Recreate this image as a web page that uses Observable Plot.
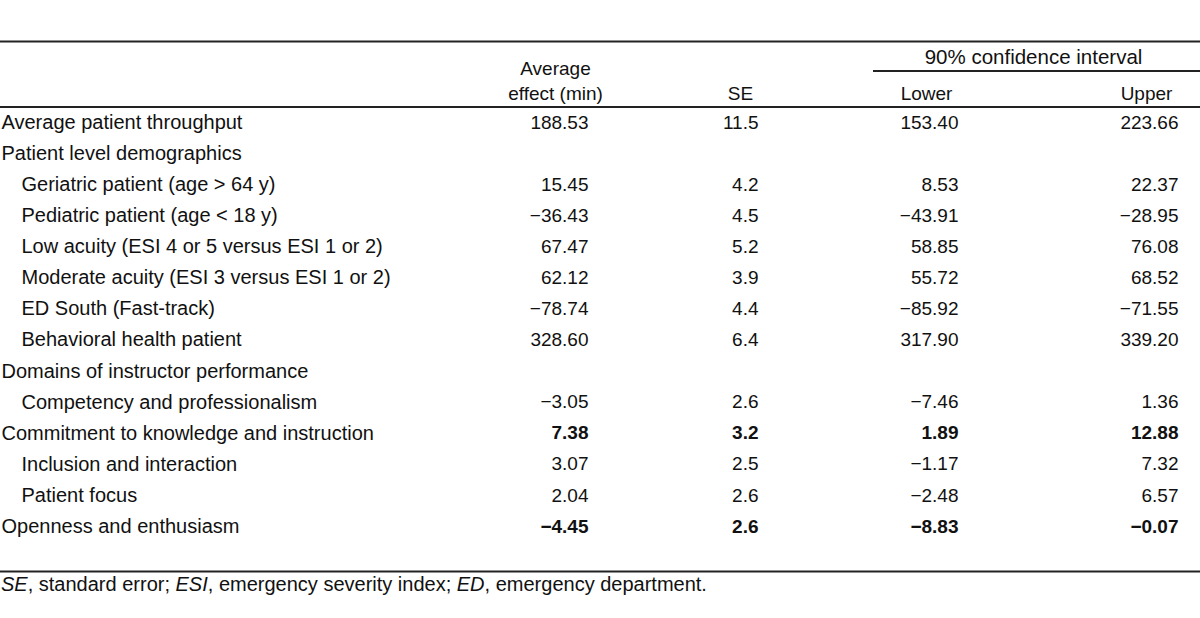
<!DOCTYPE html>
<html>
<head>
<meta charset="utf-8">
<script src="https://cdn.jsdelivr.net/npm/d3@7"></script>
<script src="https://cdn.jsdelivr.net/npm/@observablehq/plot@0.6"></script>
<style>
  html, body { margin: 0; padding: 0; background: #fff; }
  #wrap { width: 1200px; font-family: 'Liberation Sans', Arial, sans-serif; color: #111; }
  #note { font-size: 20px; line-height: 21px; margin: 0; padding-left: 1px; white-space: nowrap; }
</style>
</head>
<body>
<div id="wrap"></div>
<script>
// ---- data ----
const labels = [
  "Average patient throughput",
  "Patient level demographics",
  "Geriatric patient (age > 64 y)",
  "Pediatric patient (age < 18 y)",
  "Low acuity (ESI 4 or 5 versus ESI 1 or 2)",
  "Moderate acuity (ESI 3 versus ESI 1 or 2)",
  "ED South (Fast-track)",
  "Behavioral health patient",
  "Domains of instructor performance",
  "Competency and professionalism",
  "Commitment to knowledge and instruction",
  "Inclusion and interaction",
  "Patient focus",
  "Openness and enthusiasm"
];
const indent = [0, 0, 1, 1, 1, 1, 1, 1, 0, 1, 0, 1, 1, 0];
const avgEffect = [188.53, null, 15.45, -36.43, 67.47, 62.12, -78.74, 328.60, null, -3.05, 7.38, 3.07, 2.04, -4.45];
const se = [11.5, null, 4.2, 4.5, 5.2, 3.9, 4.4, 6.4, null, 2.6, 3.2, 2.5, 2.6, 2.6];
const lower = [153.40, null, 8.53, -43.91, 58.85, 55.72, -85.92, 317.90, null, -7.46, 1.89, -1.17, -2.48, -8.83];
const upper = [223.66, null, 22.37, -28.95, 76.08, 68.52, -71.55, 339.20, null, 1.36, 12.88, 7.32, 6.57, -0.07];
const boldRows = [10, 13];
const headers = ["Average", "effect (min)", "SE", "Lower", "Upper", "90% confidence interval"];

// ---- layout ----
const W = 1200, H = 574;
const colRight = {avg: 588, se: 758, lower: 958, upper: 1178};
const colCenter = {avg: 555, se: 740, lower: 926, upper: 1146, ci: 1033};
const font = "'Liberation Sans', Arial, sans-serif";

const fmt = (v, d) => v == null ? null : v.toFixed(d).replace("-", "\u2212");

const labelCells = [], numCells = [];
labels.forEach((lab, i) => {
  const bold = boldRows.includes(i);
  labelCells.push({row: i, x: indent[i] ? 21 : 1, text: lab});
  const vals = [["avg", fmt(avgEffect[i], 2)], ["se", fmt(se[i], 1)], ["lower", fmt(lower[i], 2)], ["upper", fmt(upper[i], 2)]];
  for (const [k, t] of vals) if (t != null) numCells.push({row: i, x: colRight[k], text: t, bold});
});
const headCells = [
  {row: -1.74, x: colCenter.avg, text: headers[0]},
  {row: -0.935, x: colCenter.avg, text: headers[1]},
  {row: -0.935, x: colCenter.se, text: headers[2]},
  {row: -0.935, x: colCenter.lower, text: headers[3]},
  {row: -0.935, x: colCenter.upper, text: headers[4]}
];
const spanHead = [{row: -2.09, x: colCenter.ci, text: headers[5]}];
const rules = [
  {row: -2.606, x1: 0, x2: W},
  {row: -1.657, x1: 873, x2: W},
  {row: -0.499, x1: 0, x2: W},
  {row: 14.446, x1: 0, x2: W}
];

const plot = Plot.plot({
  width: W, height: H,
  margin: 0,
  x: {domain: [0, W], range: [0, W], axis: null},
  y: {domain: [-3.925, 14.543], range: [0, H], axis: null},
  style: {fontFamily: font, fontSize: "19px", background: "#fff", color: "#111"},
  marks: [
    Plot.ruleY(rules, {y: "row", x1: "x1", x2: "x2", stroke: "#222", strokeWidth: 2}),
    Plot.text(labelCells, {x: "x", y: "row", text: "text", textAnchor: "start", fontSize: 20, fill: "#111"}),
    Plot.text(numCells.filter(d => !d.bold), {x: "x", y: "row", text: "text", textAnchor: "end", fontSize: 19, fill: "#111"}),
    Plot.text(numCells.filter(d => d.bold), {x: "x", y: "row", text: "text", textAnchor: "end", fontSize: 19, fontWeight: "bold", fill: "#111"}),
    Plot.text(headCells, {x: "x", y: "row", text: "text", textAnchor: "middle", fontSize: 19, fill: "#111"}),
    Plot.text(spanHead, {x: "x", y: "row", text: "text", textAnchor: "middle", fontSize: 20.5, fill: "#111"})
  ]
});
const wrap = document.getElementById("wrap");
wrap.appendChild(plot);
const note = document.createElement("p");
note.id = "note";
note.innerHTML = "<i>SE</i>, standard error; <i>ESI</i>, emergency severity index; <i>ED</i>, emergency department.";
wrap.appendChild(note);
</script>
</body>
</html>
